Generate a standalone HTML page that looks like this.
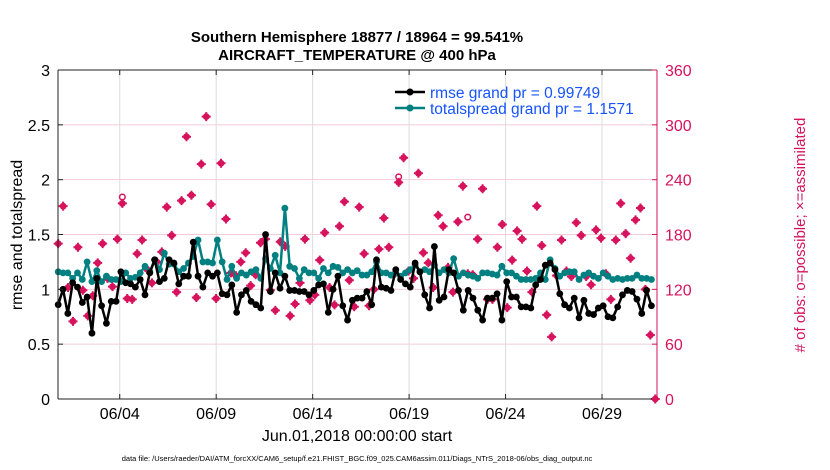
<!DOCTYPE html>
<html><head><meta charset="utf-8">
<style>
html,body{margin:0;padding:0;background:#fff;}
svg{display:block;font-family:"Liberation Sans",Arial,sans-serif;}
</style></head>
<body>
<svg id="chart" width="830" height="470" viewBox="0 0 830 470" xmlns="http://www.w3.org/2000/svg">
<text x="357" y="42" text-anchor="middle" font-size="15" font-weight="bold">Southern Hemisphere 18877 / 18964 = 99.541%</text>
<text x="357" y="60" text-anchor="middle" font-size="15" font-weight="bold">AIRCRAFT_TEMPERATURE @ 400 hPa</text>
<g id="grid"></g>
<g id="series"></g>
<g id="axes"></g>
<text transform="translate(22,235) rotate(-90)" text-anchor="middle" font-size="16">rmse and totalspread</text>
<text transform="translate(805,235) rotate(-90)" text-anchor="middle" font-size="15" fill="#d6135c"># of obs: o=possible; ×=assimilated</text>
<text x="357" y="441" text-anchor="middle" font-size="16">Jun.01,2018 00:00:00 start</text>
<text x="357" y="461" text-anchor="middle" font-size="7.5">data file: /Users/raeder/DAI/ATM_forcXX/CAM6_setup/f.e21.FHIST_BGC.f09_025.CAM6assim.011/Diags_NTrS_2018-06/obs_diag_output.nc</text>
<g>
<line x1="395" y1="92" x2="425" y2="92" stroke="#000" stroke-width="2.5"/><circle cx="410" cy="92" r="3.5" fill="#000"/>
<text x="430" y="98" font-size="15.5" fill="#1553ff">rmse grand pr = 0.99749</text>
<line x1="395" y1="108" x2="425" y2="108" stroke="#008080" stroke-width="2.5"/><circle cx="410" cy="108" r="3.5" fill="#008080"/>
<text x="430" y="114" font-size="15.5" fill="#1553ff">totalspread grand pr = 1.1571</text>
</g>
</svg>
<script>
const rmse=[.86,1.0,.78,1.06,1.02,.88,.93,.60,1.10,.85,.69,.89,.89,1.16,1.06,1.05,1.02,1.09,.95,1.15,1.27,1.07,1.10,1.27,1.24,1.05,1.12,1.12,1.43,1.12,1.02,1.15,1.12,
1.15,.96,.95,1.04,.79,.95,.99,.89,.86,.83,1.50,.98,1.15,1.01,1.12,.99,.99,.98,.98,.95,.99,1.04,1.05,.79,1.0,1.12,.85,.72,.90,.92,.92,
.98,.86,1.27,1.02,1.01,.99,1.18,1.09,1.05,1.02,1.24,1.16,.95,.83,1.39,.90,.93,1.18,1.15,.99,.81,.99,.92,.81,.72,.92,.92,.96,.72,1.07,
.93,.93,.84,.84,.83,1.04,1.09,1.22,1.24,1.18,.96,.86,.83,.92,.74,.90,.78,.77,.83,.85,.75,.74,.84,.95,.99,.98,.91,.78,.99,.85];
const spread=[1.16,1.15,1.15,1.10,1.15,1.09,1.25,1.07,1.17,1.07,1.12,1.09,1.09,1.07,1.15,1.10,1.11,1.15,1.21,1.16,1.27,1.18,1.33,1.23,1.23,1.16,1.19,1.24,1.30,1.45,1.25,1.25,1.24,
1.45,1.25,1.09,1.21,1.10,1.15,1.13,1.16,1.18,1.10,1.28,1.19,1.31,1.15,1.74,1.21,1.19,1.10,1.18,1.15,1.15,1.10,1.19,1.15,1.21,1.20,1.15,1.18,1.15,1.17,1.13,
1.13,1.16,1.25,1.15,1.15,1.13,1.15,1.12,1.15,1.18,1.22,1.16,1.18,1.16,1.22,1.15,1.18,1.15,1.28,1.12,1.15,1.13,1.12,1.10,1.15,1.15,1.14,1.13,1.21,1.15,
1.15,1.12,1.09,1.09,1.09,1.10,1.15,1.09,1.27,1.19,1.12,1.15,1.16,1.16,1.09,1.13,1.15,1.12,1.10,1.15,1.12,1.09,1.10,1.09,1.10,1.10,1.13,1.10,1.10,1.09];
const obsUsed=[170,211,122,85,166,119,91,113,149,170,132,123,175,214,110,109,159,174,142,127,150,161,210,179,117,217,287,223,111,257,309,213,110,
258,197,138,135,150,160,124,136,171,175,119,97,172,167,91,104,127,175,108,114,152,182,122,103,189,216,130,101,210,159,
102,120,164,198,166,136,237,264,140,132,247,160,149,122,201,189,144,117,194,233,137,136,175,230,109,109,166,191,100,152,
184,175,140,117,211,168,92,68,135,174,140,134,193,179,134,125,185,176,137,109,174,214,181,154,196,209,120,70,0];
const obsPossExtra={13:221,69:243,83:199};
const yTicks=[0,0.5,1,1.5,2,2.5,3];
const rTicks=[0,60,120,180,240,300,360];
const dateLabels=["06/04","06/09","06/14","06/19","06/24","06/29"];
const dateDays=[3,8,13,18,23,28];

const NS="http://www.w3.org/2000/svg";
const L=58,R=657,T=70,B=399;
const dayMin=-0.2,dayMax=30.85;
const xDay=d=>L+(d-dayMin)/(dayMax-dayMin)*(R-L);
const xIdx=i=>xDay(dayMin+0.01+i*0.25);
const xObs=i=>xDay(dayMin+0.01+i*(30.95/(obsUsed.length-1)));
const yL=v=>B-v/3*(B-T);
const yR=v=>B-v/360*(B-T);
function mk(tag,attrs,parent){const e=document.createElementNS(NS,tag);for(const k in attrs)e.setAttribute(k,attrs[k]);parent.appendChild(e);return e;}
const grid=document.getElementById('grid'),ser=document.getElementById('series'),ax=document.getElementById('axes');
yTicks.forEach(v=>{if(v>0&&v<3){const l=mk('line',{x1:L,x2:R,y1:yL(v),y2:yL(v),stroke:'#f4cbd8','stroke-width':1},grid);

}});
dateDays.forEach(d=>{const l=mk('line',{x1:xDay(d),x2:xDay(d),y1:T,y2:B,stroke:'#dcdcdc','stroke-width':1},grid);

});
obsUsed.forEach((c,i)=>{const x=xObs(i),y=yR(c);
const g=mk('g',{},ser);


mk('circle',{cx:x,cy:y,r:3.4,fill:'#d6135c'},g);
mk('path',{d:`M${x-4.5},${y}H${x+4.5}M${x},${y-4.5}V${y+4.5}`,stroke:'#d6135c','stroke-width':2},g);
if(obsPossExtra[i]!==undefined){const p=mk('circle',{cx:x,cy:yR(obsPossExtra[i]),r:2.8,fill:'none',stroke:'#d6135c','stroke-width':1.5},ser);

}});
function drawLine(arr,col,name){
const pts=arr.map((v,i)=>xIdx(i).toFixed(1)+','+yL(v).toFixed(1)).join(' ');
const pl=mk('polyline',{points:pts,fill:'none',stroke:col,'stroke-width':2.5,'stroke-linejoin':'round'},ser);


arr.forEach((v,i)=>{const c=mk('circle',{cx:xIdx(i),cy:yL(v),r:3.4,fill:col},ser);

});}
drawLine(spread,'#008080','totalspread');
drawLine(rmse,'#000000','rmse');
mk('line',{x1:L,x2:R,y1:T,y2:T,stroke:'#222','stroke-width':1},ax);
mk('line',{x1:L,x2:R,y1:B,y2:B,stroke:'#222','stroke-width':1},ax);
mk('line',{x1:L,x2:L,y1:T,y2:B,stroke:'#222','stroke-width':1},ax);
mk('line',{x1:R,x2:R,y1:T,y2:B,stroke:'#d6135c','stroke-width':1},ax);
yTicks.forEach(v=>{mk('line',{x1:L,x2:L+5,y1:yL(v),y2:yL(v),stroke:'#222'},ax);
const t=mk('text',{x:L-8,y:yL(v)+6,'text-anchor':'end','font-size':16},ax);t.textContent=v;

});
rTicks.forEach(v=>{mk('line',{x1:R-5,x2:R,y1:yR(v),y2:yR(v),stroke:'#d6135c'},ax);
const t=mk('text',{x:R+8,y:yR(v)+6,'font-size':16,fill:'#d6135c'},ax);t.textContent=v;

});
dateDays.forEach((d,i)=>{mk('line',{x1:xDay(d),x2:xDay(d),y1:B-5,y2:B,stroke:'#222'},ax);mk('line',{x1:xDay(d),x2:xDay(d),y1:T,y2:T+5,stroke:'#222'},ax);
const t=mk('text',{x:xDay(d),y:B+20,'text-anchor':'middle','font-size':16},ax);t.textContent=dateLabels[i];

});
</script>
</body></html>
